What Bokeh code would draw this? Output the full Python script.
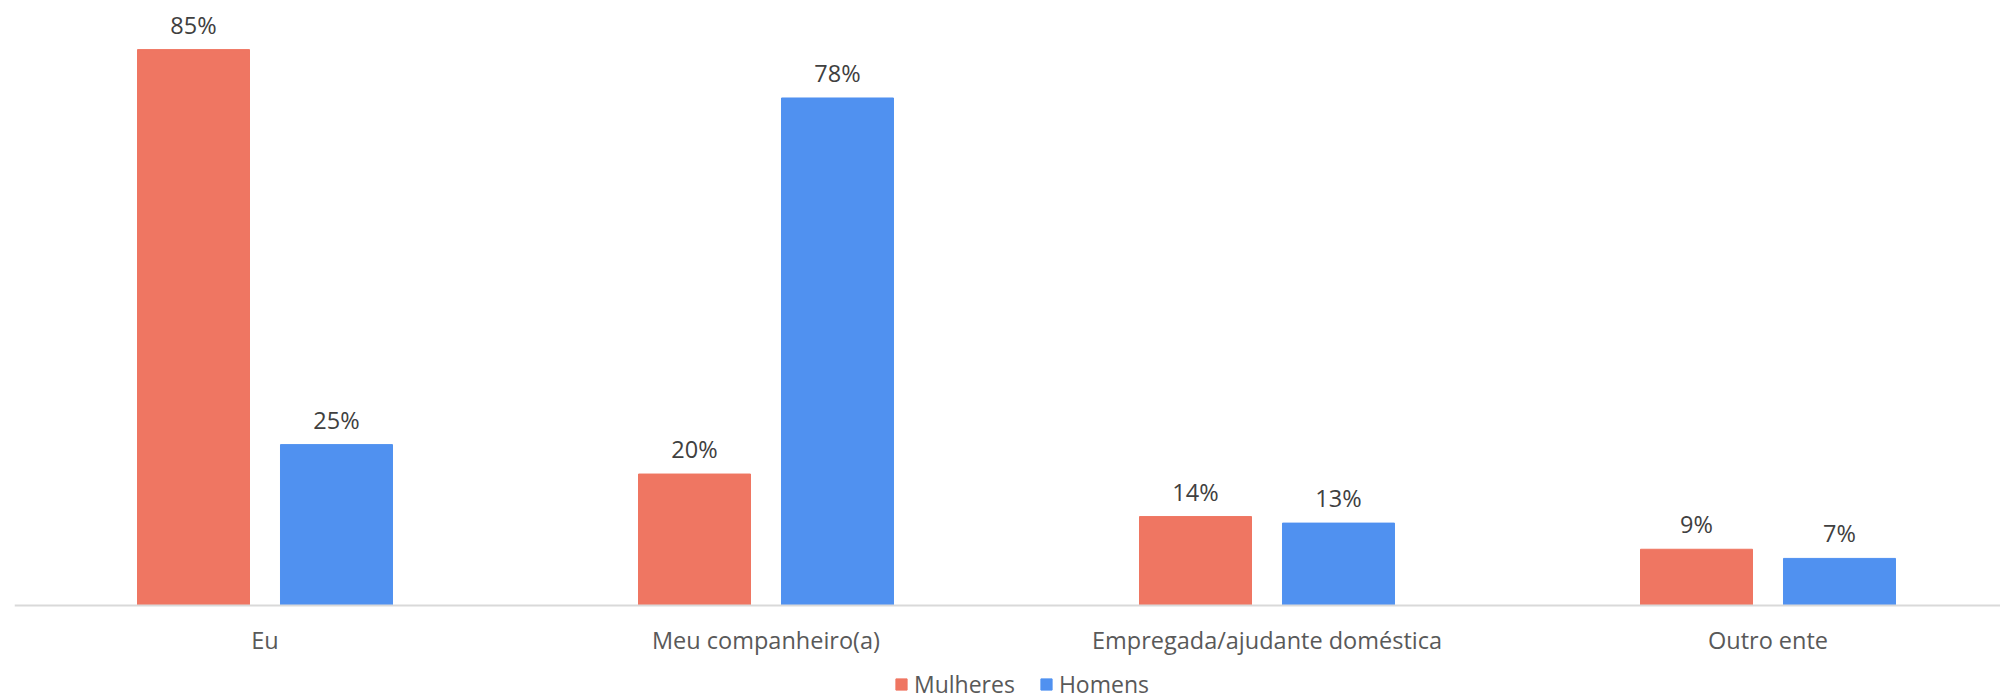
from bokeh.plotting import figure
from bokeh.models import ColumnDataSource, Range1d, Legend, LegendItem, FixedTicker
from bokeh.core.properties import value
from bokeh.embed import file_html
from bokeh.resources import INLINE

categories = ["Eu", "Meu companheiro(a)", "Empregada/ajudante doméstica", "Outro ente"]
mulheres = [85.0, 20.1, 13.6, 8.6]
homens = [24.6, 77.6, 12.6, 7.2]
series_names = ["Mulheres", "Homens"]

RED = "#EF7662"
BLUE = "#5091F0"
FONT = "Open Sans"

PX_PER_UNIT = 6.54  # vertical pixels per percentage point
CAT_PX = 501         # horizontal pixels per category

idx = list(range(len(categories)))
src_m = ColumnDataSource(dict(x=[i - 0.1427 for i in idx], y=mulheres,
                              lbl=[f"{round(v)}%" for v in mulheres]))
src_h = ColumnDataSource(dict(x=[i + 0.1427 for i in idx], y=homens,
                              lbl=[f"{round(v)}%" for v in homens]))

p = figure(width=2000, height=700, output_backend="svg", toolbar_location=None,
           x_range=Range1d(-0.5, -0.5 + 1986 / CAT_PX),
           y_range=Range1d(-95 / PX_PER_UNIT, 597 / PX_PER_UNIT),
           min_border_left=14, min_border_right=0, min_border_top=8, min_border_bottom=0)
p.outline_line_color = None
p.background_fill_color = "white"
p.border_fill_color = "white"
p.xgrid.visible = False
p.ygrid.visible = False
p.yaxis.visible = False

bw = 112 / CAT_PX
r_m = p.vbar(x="x", top="y", bottom=0, width=bw, source=src_m, fill_color=RED, line_color=RED)
r_h = p.vbar(x="x", top="y", bottom=0, width=bw, source=src_h, fill_color=BLUE, line_color=BLUE)

for s in (src_m, src_h):
    p.text(x="x", y="y", text="lbl", source=s, text_align="center", text_baseline="middle",
           y_offset=-25, text_font=value(FONT), text_font_size="23.5px", text_color="#404040")

ax = p.xaxis[0]
ax.fixed_location = 0
ax.ticker = FixedTicker(ticks=idx)
ax.major_label_overrides = {i: c for i, c in zip(idx, categories)}
ax.axis_line_color = "#D9D9D9"
ax.axis_line_width = 2
ax.major_tick_line_color = None
ax.minor_tick_line_color = None
ax.major_tick_out = 0
ax.major_tick_in = 0
ax.major_label_text_font = FONT
ax.major_label_text_font_size = "23.5px"
ax.major_label_text_color = "#595959"
ax.major_label_standoff = 18

legend = Legend(items=[LegendItem(label=series_names[0], renderers=[r_m]),
                       LegendItem(label=series_names[1], renderers=[r_h])],
                orientation="horizontal", location=(880, 0),
                glyph_width=14, glyph_height=14, label_standoff=6, spacing=24,
                padding=0, margin=0, border_line_color=None, background_fill_alpha=0,
                label_text_font=FONT, label_text_font_size="23px", label_text_color="#595959")
p.add_layout(legend, "center")

open("out.html", "w").write(file_html(p, INLINE))
